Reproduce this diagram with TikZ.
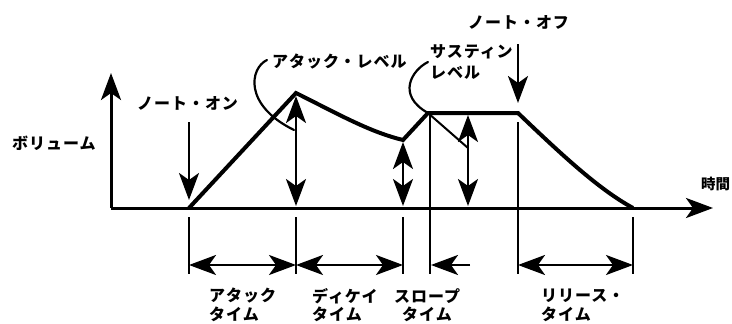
\documentclass[tikz,border=0pt]{standalone}
\usepackage{fontspec}
\newfontfamily\jp{Noto Sans CJK JP}[LetterSpace=6]
\usetikzlibrary{arrows.meta}
\tikzset{
  hd/.tip={Stealth[length=27pt,width=20pt,inset=7pt]},
  tip/.style={-hd},
  dtip/.style={hd-hd},
  lbl/.style={font=\jp\bfseries\fontsize{16}{18}\selectfont, anchor=west, inner sep=0pt},
  env/.style={line width=4pt, line join=miter},
  axisline/.style={line width=3pt},
  shaft/.style={line width=2.6pt},
  thin/.style={line width=2.4pt},
  fine/.style={line width=2pt},
  curl/.style={line width=2.2pt, line cap=round},
}
\begin{document}
\begin{tikzpicture}[x=1pt,y=-1pt]
\useasboundingbox (0,0) rectangle (732,324);
% key points
\coordinate (O) at (111,208);
\coordinate (Ytop) at (111,73);
\coordinate (Xend) at (713,208);
\coordinate (A0) at (189,208);
\coordinate (Apk) at (296,93);
\coordinate (Dlow) at (403,140);
\coordinate (Spk) at (428,113);
\coordinate (Send) at (518,113);
\coordinate (Rend) at (633,208);
% axes
\draw[axisline,tip] (O) -- (Xend);
\draw[axisline,tip] (O) -- (Ytop);
% envelope
\draw[env] (A0) -- (Apk) .. controls (340,115) and (370,132) .. (Dlow) -- (Spk) -- (Send) .. controls (565,158) and (600,190) .. (Rend);
% note on / off
\coordinate (Non1) at (189,122); \coordinate (Non2) at (189,200);
\draw[shaft,tip] (Non1) -- (Non2);
\coordinate (Noff1) at (518,44); \coordinate (Noff2) at (518,103);
\draw[shaft,tip] (Noff1) -- (Noff2);
\coordinate (Noff3) at (518,122); \coordinate (Noff4) at (518,274);
\draw[fine] (Noff3) -- (Noff4);
% level arrows
\coordinate (L1a) at (296,96); \coordinate (L1b) at (296,206);
\draw[shaft,dtip] (L1a) -- (L1b);
\coordinate (L2a) at (403,142); \coordinate (L2b) at (403,206);
\draw[shaft,dtip] (L2a) -- (L2b);
\coordinate (L3a) at (468,115); \coordinate (L3b) at (468,206);
\draw[shaft,dtip] (L3a) -- (L3b);
% sustain vertical
\coordinate (Sv1) at (430,113); \coordinate (Sv2) at (430,274);
\draw[fine] (Sv1) -- (Sv2);
% curls
\coordinate (C1s) at (267,60); \coordinate (C1e) at (294,130);
\draw[curl] (C1s) .. controls (250,68) and (243,105) .. (C1e);
\coordinate (C2s) at (428,62); \coordinate (C2e) at (468,148);
\draw[curl] (C2s) .. controls (412,70) and (396,95) .. (Spk);
\draw[fine] (Spk) -- (C2e);
% time ticks
\foreach \n/\x in {t1/189,t2/296,t3/403,t6/633}{
  \coordinate (\n a) at (\x,217); \coordinate (\n b) at (\x,274);
  \draw[thin] (\n a) -- (\n b);
}
% time arrows
\coordinate (h1) at (189,265); \coordinate (h2) at (296,265);
\coordinate (h3) at (403,265); \coordinate (h4) at (431,265);
\coordinate (h4t) at (470,265);
\coordinate (h5) at (518,265); \coordinate (h6) at (633,265);
\draw[shaft,dtip] (h1) -- (h2);
\draw[shaft,dtip] (h2) -- (h3);
\draw[shaft,tip] (h4t) -- (h4);
\draw[shaft,dtip] (h5) -- (h6);
% labels
\node[lbl] (vol) at (12,143) {ボリューム};
\node[lbl] (non) at (137,103) {ノート・オン};
\node[lbl] (alv) at (272,62) {アタック・レベル};
\node[lbl] (slv1) at (430,52) {サスティン};
\node[lbl] (slv2) at (430,73) {レベル};
\node[lbl] (noff) at (468,22) {ノート・オフ};
\node[lbl, font=\jp\bfseries\fontsize{14.5}{16}\selectfont\addfontfeature{LetterSpace=0}] (time) at (701,184) {時間};
\node[lbl] (at1) at (209,296) {アタック};
\node[lbl] (at2) at (209,314) {タイム};
\node[lbl] (dt1) at (312,296) {ディケイ};
\node[lbl] (dt2) at (312,314) {タイム};
\node[lbl] (st1) at (394,296) {スロープ};
\node[lbl] (st2) at (402,314) {タイム};
\node[lbl] (rt1) at (541,296) {リリース・};
\node[lbl] (rt2) at (541,314) {タイム};
\end{tikzpicture}
\end{document}
